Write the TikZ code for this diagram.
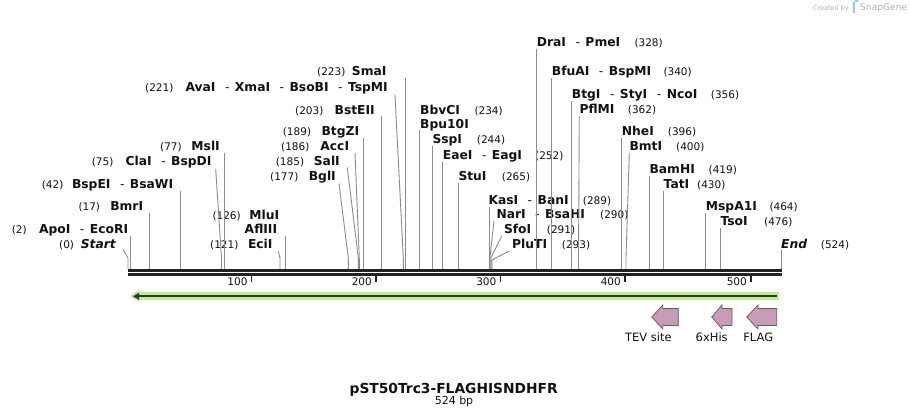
\documentclass[tikz,border=0pt]{standalone}
\usepackage{fontspec}
\setmainfont{DejaVu Sans}
\definecolor{leadgray}{RGB}{140,140,140}
\definecolor{bbone}{RGB}{34,34,34}
\definecolor{featgreen}{RGB}{183,240,140}
\definecolor{darkline}{RGB}{51,51,51}
\definecolor{pinkfeat}{RGB}{200,155,182}
\definecolor{pinkedge}{RGB}{95,95,95}
\definecolor{wmgray}{RGB}{178,178,178}
\definecolor{wmblue}{RGB}{150,205,240}
\definecolor{txt}{RGB}{17,17,17}
\newcommand{\sepd}{\hspace{9.5pt}{\mdseries -}\hspace{5.5pt}}
\tikzset{
  nm/.style={font=\fontsize{12.3}{14}\selectfont\bfseries, inner sep=0pt, text=txt},
  nmi/.style={font=\fontsize{12.3}{14}\selectfont\bfseries\itshape, inner sep=0pt, text=txt},
  num/.style={font=\fontsize{10.5}{12}\selectfont, inner sep=0pt, text=txt},
  ldr/.style={draw=leadgray, line width=0.9pt},
  tickmark/.style={draw=bbone, line width=1.5pt},
  featarrow/.style={fill=pinkfeat, draw=pinkedge, line width=0.7pt, line join=miter},
  featlab/.style={font=\fontsize{11.5}{13}\selectfont, inner sep=0pt, text=txt, anchor=base},
}
\begin{document}
\begin{tikzpicture}[x=1pt,y=-1pt]
\useasboundingbox (0,0) rectangle (910,419);
\fill[white] (0,0) rectangle (910,419);

% ---------- watermark ----------
\node[font=\fontsize{6.5}{8}\selectfont, text=wmgray, inner sep=0pt, anchor=base east] (wm1) at (849,10.5) {Created by};
\fill[wmblue] (852.5,2.5) rectangle (855,13);
\fill[wmblue] (852.5,2.5) -- (856,2.5) arc[start angle=90,end angle=-90,radius=3] -- (852.5,8.5) -- cycle;
\node[font=\fontsize{9.1}{11}\selectfont, text=wmgray, inner sep=0pt, anchor=base west] (wm2) at (860,11) {SnapGene};

% ---------- backbone ----------
\draw[bbone, line width=2.7pt] (128,270.3) -- (781.5,270.3);
\draw[bbone, line width=2.4pt] (128,274.6) -- (781.5,274.6);

% ticks
\foreach \tx/\tl in {251.7/100, 376/200, 500.5/300, 625/400, 751/500}{
  \draw[tickmark] (\tx,276) -- (\tx,282);
  \node[num, anchor=base east] (tick\tl) at (\tx-4,285.7) {\tl};
}

% ---------- feature (green) ----------
\fill[featgreen] (779,292) -- (139,292) -- (139,290) -- (130,296) -- (139,302) -- (139,300) -- (779,300) -- cycle;
\draw[darkline, line width=2.4pt] (777,296.3) -- (137,296.3);
\fill[darkline] (133,296.3) -- (139,292.8) -- (139,299.8) -- cycle;

% ---------- small feature arrows ----------
\draw[featarrow] (651.7,317) -- (662.7,305) -- (662.7,308.5) -- (678.3,308.5) -- (678.3,325.5) -- (662.7,325.5) -- (662.7,329) -- cycle;
\draw[featarrow] (711.7,317) -- (722,305) -- (722,308.5) -- (732,308.5) -- (732,325.5) -- (722,325.5) -- (722,329) -- cycle;
\draw[featarrow] (746.7,317) -- (758,305) -- (758,308.5) -- (776.7,308.5) -- (776.7,325.5) -- (758,325.5) -- (758,329) -- cycle;
\node[featlab] (ftev) at (648.3,342) {TEV site};
\node[featlab] (fhis) at (711.7,342) {6xHis};
\node[featlab] (fflag) at (758.3,342) {FLAG};

% ---------- title ----------
\node[font=\fontsize{13.8}{16}\selectfont\bfseries, inner sep=0pt, anchor=base, text=txt] (title) at (453.7,393.3) {pST50Trc3-FLAGHISNDHFR};
\node[font=\fontsize{11}{13}\selectfont, inner sep=0pt, anchor=base, text=txt] (bp) at (454,404) {524 bp};

% ---------- left-side labels ----------
\node[nmi, anchor=base east] (Lstart) at (116,249) {Start};
\node[num, anchor=base west] (Nstart) at (59,249) {(0)};
\node[nm, anchor=base east] (Lapo) at (128.3,233.3) {ApoI\sepd EcoRI};
\node[num, anchor=base west] (Napo) at (11.7,233.3) {(2)};
\node[nm, anchor=base east] (Lbmr) at (143.3,211) {BmrI};
\node[num, anchor=base west] (Nbmr) at (78.3,211) {(17)};
\node[nm, anchor=base east] (Lbsp) at (173.3,188.3) {BspEI\sepd BsaWI};
\node[num, anchor=base west] (Nbsp) at (41.7,188.3) {(42)};
\node[nm, anchor=base east] (Lcla) at (211.7,165.7) {ClaI\sepd BspDI};
\node[num, anchor=base west] (Ncla) at (91.7,165.7) {(75)};
\node[nm, anchor=base east] (Lmsl) at (220,150.7) {MslI};
\node[num, anchor=base west] (Nmsl) at (160,150.7) {(77)};
\node[nm, anchor=base east] (Lmlu) at (279.3,219.3) {MluI};
\node[num, anchor=base west] (Nmlu) at (212.3,219.3) {(126)};
\node[nm, anchor=base east] (Lafl) at (277.3,233.3) {AflIII};
\node[nm, anchor=base east] (Leci) at (272.7,249) {EciI};
\node[num, anchor=base west] (Neci) at (210,249) {(121)};
\node[nm, anchor=base east] (Lsma) at (386.7,75.7) {SmaI};
\node[num, anchor=base west] (Nsma) at (317,75.7) {(223)};
\node[nm, anchor=base east] (Lava) at (388,91.7) {AvaI\sepd XmaI\sepd BsoBI\sepd TspMI};
\node[num, anchor=base west] (Nava) at (145,91.7) {(221)};
\node[nm, anchor=base east] (Lbst) at (375,114.3) {BstEII};
\node[num, anchor=base west] (Nbst) at (295,114.3) {(203)};
\node[nm, anchor=base east] (Lbtgz) at (359.3,136) {BtgZI};
\node[num, anchor=base west] (Nbtgz) at (282.7,136) {(189)};
\node[nm, anchor=base east] (Lacc) at (349.3,151) {AccI};
\node[num, anchor=base west] (Nacc) at (281,151) {(186)};
\node[nm, anchor=base east] (Lsal) at (340,166) {SalI};
\node[num, anchor=base west] (Nsal) at (275.7,166) {(185)};
\node[nm, anchor=base east] (Lbgl) at (336,181) {BglI};
\node[num, anchor=base west] (Nbgl) at (270,181) {(177)};

% ---------- right-side labels ----------
\node[nm, anchor=base west] (Lbbv) at (420,114.3) {BbvCI};
\node[num, anchor=base west] (Nbbv) at (474.3,114.3) {(234)};
\node[nm, anchor=base west] (Lbpu) at (420,129) {Bpu10I};
\node[nm, anchor=base west] (Lssp) at (432.3,144) {SspI};
\node[num, anchor=base west] (Nssp) at (476.7,144) {(244)};
\node[nm, anchor=base west] (Leae) at (442.7,159.3) {EaeI\sepd EagI};
\node[num, anchor=base west] (Neae) at (535,159.3) {(252)};
\node[nm, anchor=base west] (Lstu) at (458.3,181) {StuI};
\node[num, anchor=base west] (Nstu) at (501.7,181) {(265)};
\node[nm, anchor=base west] (Lkas) at (488.3,204.5) {KasI\sepd BanI};
\node[num, anchor=base west] (Nkas) at (582.7,204.5) {(289)};
\node[nm, anchor=base west] (Lnar) at (496.3,219) {NarI\sepd BsaHI};
\node[num, anchor=base west] (Nnar) at (600,219) {(290)};
\node[nm, anchor=base west] (Lsfo) at (503.8,234) {SfoI};
\node[num, anchor=base west] (Nsfo) at (546.7,234) {(291)};
\node[nm, anchor=base west] (Lplu) at (512,249) {PluTI};
\node[num, anchor=base west] (Nplu) at (561.7,249) {(293)};
\node[nm, anchor=base west] (Ldra) at (536.7,46.7) {DraI\sepd PmeI};
\node[num, anchor=base west] (Ndra) at (634.3,46.7) {(328)};
\node[nm, anchor=base west] (Lbfu) at (551.7,76) {BfuAI\sepd BspMI};
\node[num, anchor=base west] (Nbfu) at (663.3,76) {(340)};
\node[nm, anchor=base west] (Lbtg) at (571.7,99) {BtgI\sepd StyI\sepd NcoI};
\node[num, anchor=base west] (Nbtg) at (710.7,99) {(356)};
\node[nm, anchor=base west] (Lpfl) at (579.3,114) {PflMI};
\node[num, anchor=base west] (Npfl) at (627.7,114) {(362)};
\node[nm, anchor=base west] (Lnhe) at (621.7,136) {NheI};
\node[num, anchor=base west] (Nnhe) at (667.7,136) {(396)};
\node[nm, anchor=base west] (Lbmt) at (629.3,151) {BmtI};
\node[num, anchor=base west] (Nbmt) at (676,151) {(400)};
\node[nm, anchor=base west] (Lbam) at (649.3,174) {BamHI};
\node[num, anchor=base west] (Nbam) at (708.5,174) {(419)};
\node[nm, anchor=base west] (Ltat) at (663.5,189) {TatI};
\node[num, anchor=base west] (Ntat) at (697,189) {(430)};
\node[nm, anchor=base west] (Lmsp) at (705.7,211) {MspA1I};
\node[num, anchor=base west] (Nmsp) at (769.3,211) {(464)};
\node[nm, anchor=base west] (Ltso) at (720.3,226) {TsoI};
\node[num, anchor=base west] (Ntso) at (764,226) {(476)};
\node[nmi, anchor=base west] (Lend) at (781,249) {End};
\node[num, anchor=base west] (Nend) at (820.7,249) {(524)};

% ---------- leader coordinates ----------
\coordinate (tstart) at (123,249.5);  \coordinate (bstart) at (128,258);  \coordinate (sstart) at (128,269);
\coordinate (tapo) at (130.2,236.5);  \coordinate (sapo) at (130.2,269);
\coordinate (tbmr) at (149.7,213.5);  \coordinate (sbmr) at (149.7,269);
\coordinate (tbsp) at (180.3,191.5);  \coordinate (sbsp) at (180.3,269);
\coordinate (tcla) at (215.7,169);    \coordinate (bcla) at (221.5,258);  \coordinate (scla) at (221.5,269);
\coordinate (tmsl) at (224.3,153.5);  \coordinate (smsl) at (224.3,269);
\coordinate (tmlu) at (285.7,236);    \coordinate (smlu) at (285.7,269);
\coordinate (teci) at (278.3,251.5);  \coordinate (beci) at (280,258);    \coordinate (seci) at (280,269);
\coordinate (tsma) at (405,78);       \coordinate (ssma) at (405,269);
\coordinate (tava) at (395,95);       \coordinate (bava) at (403.3,258);  \coordinate (sava) at (403.3,269);
\coordinate (tbst) at (381.7,116.5);  \coordinate (sbst) at (381.7,269);
\coordinate (tbtgz) at (363.3,138.5); \coordinate (sbtgz) at (363.3,269);
\coordinate (tacc) at (355,153);      \coordinate (bacc) at (359.3,258);  \coordinate (sacc) at (359.3,269);
\coordinate (tsal) at (347.3,167.5);  \coordinate (bsal) at (358.3,258);  \coordinate (ssal) at (358.3,269);
\coordinate (tbgl) at (339,183.5);    \coordinate (bbgl) at (348.3,258);  \coordinate (sbgl) at (348.3,269);
\coordinate (tbpu) at (419.3,130.5);  \coordinate (sbpu) at (419.3,269);
\coordinate (tssp) at (432.3,146.5);  \coordinate (sssp) at (432.3,269);
\coordinate (teae) at (442.7,162);    \coordinate (seae) at (442.7,269);
\coordinate (tstu) at (458.3,183.5);  \coordinate (sstu) at (458.3,269);
\coordinate (tkas) at (489,207.5);    \coordinate (skas) at (489,269);
\coordinate (tnar) at (494,221);      \coordinate (bnar) at (490,257);    \coordinate (snar) at (490,269);
\coordinate (tsfo) at (501.7,236);    \coordinate (bsfo) at (490.8,258);  \coordinate (ssfo) at (490.8,269);
\coordinate (tplu) at (509.3,251);    \coordinate (bplu) at (491.8,260);  \coordinate (splu) at (491.8,269);
\coordinate (tdra) at (536.7,49.5);   \coordinate (sdra) at (536.7,269);
\coordinate (tbfu) at (551.7,78.5);   \coordinate (sbfu) at (551.7,269);
\coordinate (tbtg) at (571.7,101.5);  \coordinate (sbtg) at (571.7,269);
\coordinate (tpfl) at (579.3,116.5);  \coordinate (bpfl) at (578.5,258);  \coordinate (spfl) at (578.5,269);
\coordinate (tnhe) at (621.7,138.5);  \coordinate (snhe) at (621.7,269);
\coordinate (tbmt) at (629.3,153);    \coordinate (bbmt) at (626,258);    \coordinate (sbmt) at (626,269);
\coordinate (tbam) at (649.3,176.5);  \coordinate (sbam) at (649.3,269);
\coordinate (ttat) at (663.5,191.5);  \coordinate (stat) at (663.5,269);
\coordinate (tmsp) at (705.7,213.5);  \coordinate (smsp) at (705.7,269);
\coordinate (ttso) at (720.3,228.5);  \coordinate (stso) at (720.3,269);
\coordinate (tend) at (781,250.5);    \coordinate (send) at (781,269);

% ---------- leaders ----------
\draw[ldr] (tstart) -- (bstart) -- (sstart);
\draw[ldr] (tapo) -- (sapo);
\draw[ldr] (tbmr) -- (sbmr);
\draw[ldr] (tbsp) -- (sbsp);
\draw[ldr] (tcla) -- (bcla) -- (scla);
\draw[ldr] (tmsl) -- (smsl);
\draw[ldr] (tmlu) -- (smlu);
\draw[ldr] (teci) -- (beci) -- (seci);
\draw[ldr] (tsma) -- (ssma);
\draw[ldr] (tava) -- (bava) -- (sava);
\draw[ldr] (tbst) -- (sbst);
\draw[ldr] (tbtgz) -- (sbtgz);
\draw[ldr] (tacc) -- (bacc) -- (sacc);
\draw[ldr] (tsal) -- (bsal) -- (ssal);
\draw[ldr] (tbgl) -- (bbgl) -- (sbgl);
\draw[ldr] (tbpu) -- (sbpu);
\draw[ldr] (tssp) -- (sssp);
\draw[ldr] (teae) -- (seae);
\draw[ldr] (tstu) -- (sstu);
\draw[ldr] (tkas) -- (skas);
\draw[ldr] (tnar) -- (bnar) -- (snar);
\draw[ldr] (tsfo) -- (bsfo) -- (ssfo);
\draw[ldr] (tplu) -- (bplu) -- (splu);
\draw[ldr] (tdra) -- (sdra);
\draw[ldr] (tbfu) -- (sbfu);
\draw[ldr] (tbtg) -- (sbtg);
\draw[ldr] (tpfl) -- (bpfl) -- (spfl);
\draw[ldr] (tnhe) -- (snhe);
\draw[ldr] (tbmt) -- (bbmt) -- (sbmt);
\draw[ldr] (tbam) -- (sbam);
\draw[ldr] (ttat) -- (stat);
\draw[ldr] (tmsp) -- (smsp);
\draw[ldr] (ttso) -- (stso);
\draw[ldr] (tend) -- (send);
\end{tikzpicture}
\end{document}
